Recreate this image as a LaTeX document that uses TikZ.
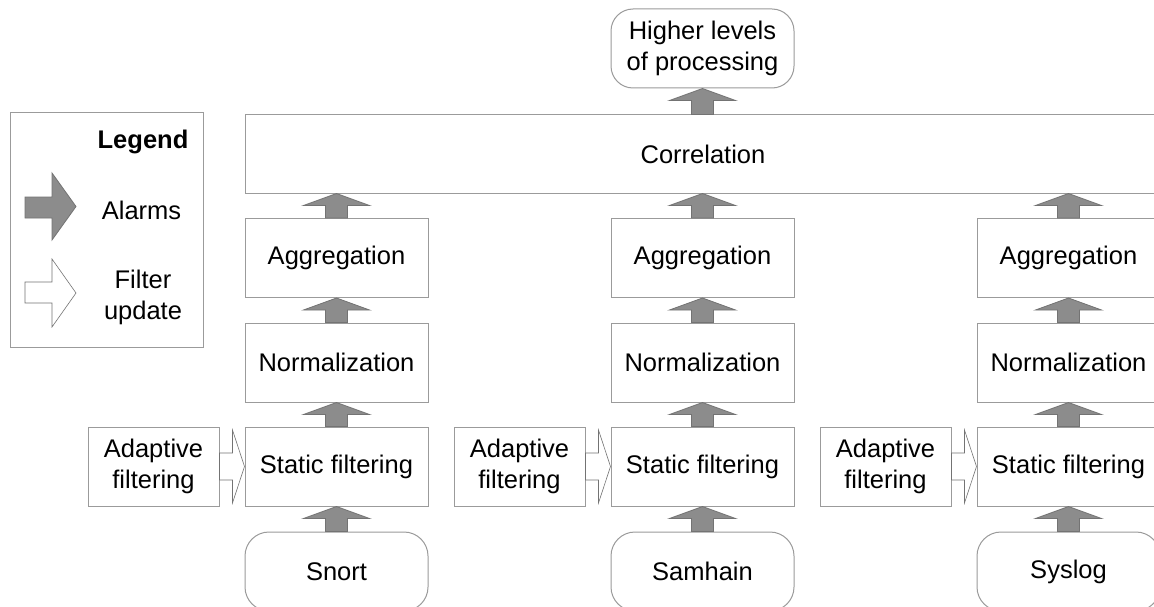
\documentclass[tikz,border=0pt]{standalone}
\usepackage{fontspec}
\setmainfont{Liberation Sans}
\usetikzlibrary{calc}
\definecolor{boxline}{RGB}{155,155,155}
\definecolor{alarmfill}{RGB}{140,140,140}
\definecolor{alarmline}{RGB}{115,115,115}
\newcommand\mainfs{\fontsize{25.5}{31}\selectfont}
\tikzset{
  stage/.style={draw=boxline, line width=1pt, fill=white, minimum width=183pt,
    minimum height=79pt, inner sep=0pt, align=center, font=\mainfs},
  source/.style={stage, rounded corners=24pt},
  adapt/.style={stage, minimum width=131pt},
  legendbox/.style={draw=boxline, line width=1pt, fill=white, minimum width=193pt,
    minimum height=234pt, inner sep=0pt},
  legendtext/.style={font=\mainfs, align=center, inner sep=0pt},
  alarm/.style={fill=alarmfill, draw=alarmline, line width=0.8pt, line join=miter},
  filterup/.style={fill=white, draw=alarmline, line width=0.6pt, line join=miter},
}
\newcommand\alarmarrow[2]{%
  \draw[alarm] ($(#1)+(-11,0)$) |- ($(#2)+(-33,12)$) -- (#2) -- ($(#2)+(33,12)$)
    -- ++(-22,0) -- ($(#1)+(11,0)$) -- cycle;}
\newcommand\filterarrow[2]{%
  \draw[filterup] ($(#1)+(0,-13.5)$) -| ($(#2)+(-12,-36.5)$) -- (#2) -- ($(#2)+(-12,36.5)$)
    -- ++(0,-23) -- ($(#1)+(0,13.5)$) -- cycle;}
\begin{document}
\begin{tikzpicture}[x=1pt, y=-1pt]
\clip (0,0) rectangle (1154,607);
\fill[white] (0,0) rectangle (1154,607);

% legend
\node[legendbox] (legend) at (106.5,230) {};
\node[legendtext, anchor=base, font=\mainfs\bfseries] (legtitle) at (143,149) {Legend};
\node[legendtext, anchor=base] (legalarm) at (141.5,219) {Alarms};
\node[legendtext] (legfilter) at (143,297) {Filter\\update};
\draw[alarm] (25,197) -- (52,197) -- (52,173) -- (76,206.5) -- (52,240) -- (52,218) -- (25,218) -- cycle;
\draw[filterup] (25,282) -- (52,282) -- (52,259) -- (76,293) -- (52,327) -- (52,303) -- (25,303) -- cycle;

% top
\node[stage, minimum width=916pt, minimum height=78pt] (corr) at (703,154) {Correlation};
\node[source, minimum height=79pt, rounded corners=22pt] (high) at (702.5,48.5) {Higher levels\\of processing};

% columns
\foreach \i/\cx/\src in {1/336.5/Snort, 2/702.5/Samhain, 3/1068.5/Syslog}{
  \node[stage] (ag\i) at (\cx,258) {Aggregation};
  \node[stage] (nz\i) at (\cx,362.5) {Normalization};
  \node[stage] (sf\i) at (\cx,466.5) {Static filtering};
  \node[source] (src\i) at (\cx,571.5) {\src};
  \node[adapt] (ad\i) at ($(\cx,466.5)+(-183,0)$) {Adaptive\\filtering};
  \coordinate (c\i) at (ag\i.north |- corr.south);
}

\coordinate (h0) at (high.south |- corr.north);
\alarmarrow{h0}{high.south}
\foreach \i in {1,2,3}{
  \alarmarrow{src\i.north}{sf\i.south}
  \alarmarrow{sf\i.north}{nz\i.south}
  \alarmarrow{nz\i.north}{ag\i.south}
  \alarmarrow{ag\i.north}{c\i}
  \filterarrow{ad\i.east}{sf\i.west}
}
\end{tikzpicture}
\end{document}
